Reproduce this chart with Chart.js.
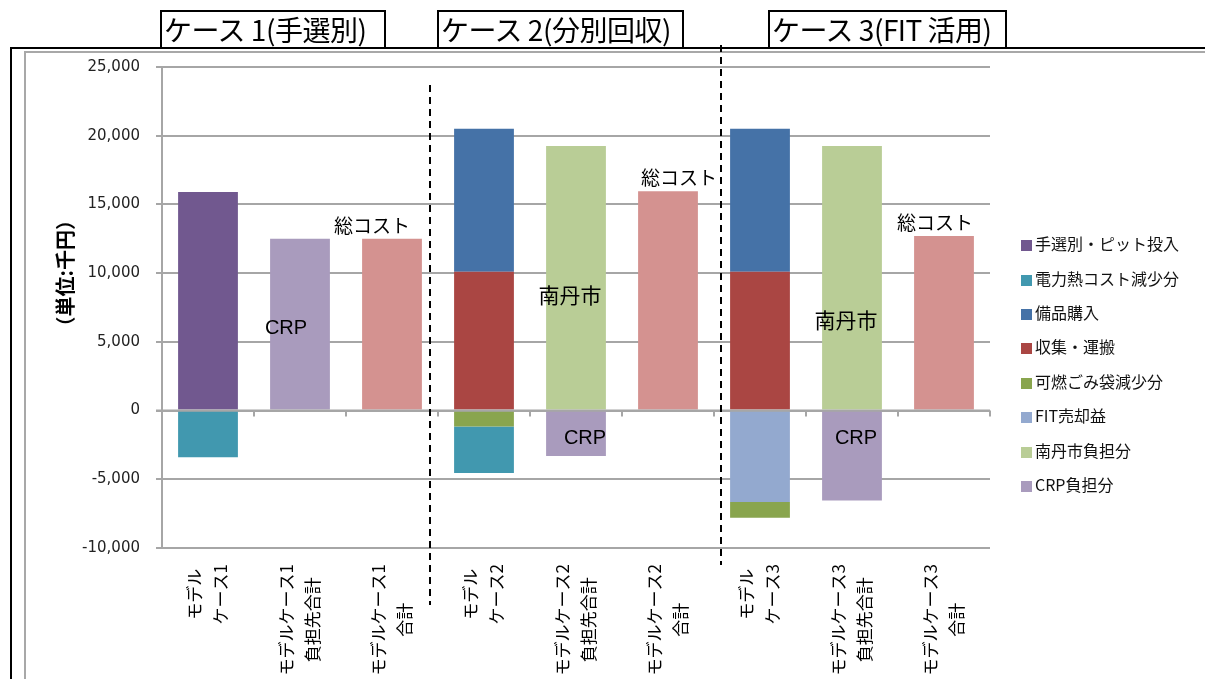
<!DOCTYPE html>
<html lang="ja">
<head>
<meta charset="UTF-8">
<title>モデルケース別コスト比較</title>
<script src="https://cdn.jsdelivr.net/npm/chart.js"></script>
<style>
  body { margin: 0; background: #fff; font-family: "Noto Sans CJK JP", sans-serif; }
  #wrap { position: relative; width: 1205px; height: 679px; overflow: hidden; }
  .frame { position: absolute; left: 10px; top: 47px; width: 1200px; height: 640px;
           border-top: 2px solid #000; border-left: 2px solid #000; }
  .inner { position: absolute; left: 24px; top: 51px; width: 1200px; height: 640px;
           border-top: 2px solid #a8a8a8; border-left: 2px solid #a8a8a8; }
  canvas { position: absolute; left: 0; top: 0; }
  .case { position: absolute; top: 10px; height: 39px; box-sizing: border-box;
          border: 2px solid #000; background: #fff; font-size: 28px; line-height: 34px;
          padding-left: 2px; white-space: nowrap; z-index: 2; letter-spacing: -0.5px; }
  #legend { position: absolute; left: 1020px; top: 226px; font-size: 16px; color: #111; }
  .item { height: 34.4px; display: flex; align-items: center; white-space: nowrap; }
  .item span { display: inline-block; width: 11px; height: 11px; margin: 5px 3px 0 1px; }
</style>
</head>
<body>
<div id="wrap">
  <div class="frame"></div>
  <div class="inner"></div>
  <canvas id="chart" width="1205" height="679"></canvas>
  <div id="legend"></div>
</div>
<script>
// カテゴリ（2行ラベル）
const categories = [
  ['モデル', 'ケース1'],
  ['モデルケース1', '負担先合計'],
  ['モデルケース1', '合計'],
  ['モデル', 'ケース2'],
  ['モデルケース2', '負担先合計'],
  ['モデルケース2', '合計'],
  ['モデル', 'ケース3'],
  ['モデルケース3', '負担先合計'],
  ['モデルケース3', '合計']
];

// 単位：千円
const handSort     = [15900, null, null, null, null, null, null, null, null];
const collection   = [null, null, null, 10100, null, null, 10100, null, null];
const equipment    = [null, null, null, 10400, null, null, 10400, null, null];
const fitSales     = [null, null, null, null, null, null, -6650, null, null];
const bagSavings   = [null, null, null, -1150, null, null, -1150, null, null];
const powerSavings = [-3400, null, null, -3400, null, null, null, null, null];
const nantanShare  = [null, null, null, null, 19250, null, null, 19250, null];
const crpShare     = [null, 12500, null, null, -3300, null, null, -6550, null];
const totalCost    = [null, null, 12500, null, null, 15950, null, null, 12700];

const yMin = -10000, yMax = 25000, yStep = 5000;
const yTitle = '（単位:千円）';

const caseTitles = ['ケース 1(手選別)', 'ケース 2(分別回収)', 'ケース 3(FIT 活用)'];

// 積み上げ順（ゼロに近いものから先）
const series = [
  { key: 'hand',  label: '手選別・ピット投入', data: handSort,     color: '#71588f' },
  { key: 'coll',  label: '収集・運搬',         data: collection,   color: '#aa4643' },
  { key: 'equip', label: '備品購入',           data: equipment,    color: '#4572a7' },
  { key: 'fit',   label: 'FIT売却益',          data: fitSales,     color: '#93a9cf' },
  { key: 'bag',   label: '可燃ごみ袋減少分',   data: bagSavings,   color: '#89a54e' },
  { key: 'power', label: '電力熱コスト減少分', data: powerSavings, color: '#4198af' },
  { key: 'city',  label: '南丹市負担分',       data: nantanShare,  color: '#b9cd96' },
  { key: 'crp',   label: 'CRP負担分',          data: crpShare,     color: '#a99bbd' },
  { key: 'total', label: '総コスト',           data: totalCost,    color: '#d49290' }
];
const legendOrder = ['hand', 'power', 'equip', 'coll', 'bag', 'fit', 'city', 'crp'];

// 棒に添える文字
const notes = [
  { i: 2, text: '総コスト', top: true, dx: -20 },
  { i: 5, text: '総コスト', top: true, dx: 11 },
  { i: 8, text: '総コスト', top: true, dx: -9 },
  { i: 1, text: 'CRP', at: 6000, dx: -14, latin: true },
  { i: 4, text: '南丹市', at: 8400, dx: -6 },
  { i: 4, text: 'CRP', at: -2000, dx: 9, latin: true },
  { i: 7, text: '南丹市', at: 6600, dx: -6 },
  { i: 7, text: 'CRP', at: -2000, dx: 4, latin: true }
];

// 区切りの点線（カテゴリ境界からのずれ、縦の範囲）
const separators = [
  { after: 2, dx: -8, y1: 85, y2: 605 },
  { after: 5, dx: 7, y1: 45, y2: 565 }
];

const caseBoxes = [
  { left: 160, width: 226 },
  { left: 437, width: 247 },
  { left: 768, width: 239 }
];
caseTitles.forEach((t, k) => {
  const d = document.createElement('div');
  d.className = 'case';
  d.style.left = caseBoxes[k].left + 'px';
  d.style.width = caseBoxes[k].width + 'px';
  d.textContent = t;
  document.getElementById('wrap').appendChild(d);
});

const legendEl = document.getElementById('legend');
legendOrder.forEach(k => {
  const s = series.find(x => x.key === k);
  const row = document.createElement('div');
  row.className = 'item';
  row.innerHTML = '<span style="background:' + s.color + '"></span>' + s.label;
  legendEl.appendChild(row);
});

const gridColor = '#a6a6a6';

const overlay = {
  id: 'overlay',
  afterDatasetsDraw(chart) {
    const ctx = chart.ctx;
    const x = chart.scales.x, y = chart.scales.y;
    const area = chart.chartArea;

    // 横軸（0の位置）と目盛り
    const y0 = y.getPixelForValue(0);
    ctx.save();
    ctx.strokeStyle = gridColor;
    ctx.lineWidth = 2;
    ctx.beginPath();
    ctx.moveTo(area.left - 6, y0);
    ctx.lineTo(area.right, y0);
    for (let i = 0; i <= categories.length; i++) {
      const px = Math.round(x.getPixelForValue(i - 0.5));
      ctx.moveTo(px, y0);
      ctx.lineTo(px, y0 + 6);
    }
    ctx.stroke();

    // 棒の文字
    ctx.fillStyle = '#000';
    ctx.textAlign = 'center';
    notes.forEach(n => {
      const cx = x.getPixelForValue(n.i) + (n.dx || 0);
      if (n.top) {
        ctx.font = '19px "Noto Sans CJK JP"';
        ctx.textBaseline = 'bottom';
        ctx.fillText(n.text, cx, y.getPixelForValue(totalCost[n.i]) - 4);
      } else {
        ctx.font = n.latin ? '20px "Liberation Sans"' : '21px "Noto Sans CJK JP"';
        ctx.textBaseline = 'middle';
        ctx.fillText(n.text, cx, y.getPixelForValue(n.at));
      }
    });
    ctx.restore();
  },
  afterDraw(chart) {
    const ctx = chart.ctx;
    const x = chart.scales.x, y = chart.scales.y;
    const area = chart.chartArea;

    ctx.save();
    // 縦軸の単位
    ctx.font = 'bold 20px "Noto Sans CJK JP"';
    ctx.fillStyle = '#000';
    ctx.textAlign = 'center';
    ctx.textBaseline = 'middle';
    ctx.save();
    ctx.translate(65, y.getPixelForValue(10000));
    ctx.rotate(-Math.PI / 2);
    ctx.fillText(yTitle, 0, 0);
    ctx.restore();

    // 縦書きのカテゴリラベル
    ctx.font = '17px "Noto Sans CJK JP"';
    const lh = 26;
    categories.forEach((lines, i) => {
      const cx = x.getPixelForValue(i);
      const maxW = Math.max(...lines.map(l => ctx.measureText(l).width));
      lines.forEach((l, j) => {
        ctx.save();
        ctx.translate(cx + (j - (lines.length - 1) / 2) * lh, area.bottom + 16);
        ctx.rotate(-Math.PI / 2);
        ctx.fillText(l, -maxW / 2, 0);
        ctx.restore();
      });
    });

    // ケース間の点線
    ctx.strokeStyle = '#000';
    ctx.lineWidth = 2;
    ctx.setLineDash([7, 5]);
    separators.forEach(s => {
      const px = Math.round(x.getPixelForValue(s.after + 0.5) + s.dx);
      ctx.beginPath();
      ctx.moveTo(px, s.y1);
      ctx.lineTo(px, s.y2);
      ctx.stroke();
    });
    ctx.restore();
  }
};

new Chart(document.getElementById('chart'), {
  type: 'bar',
  data: {
    labels: categories,
    datasets: series.map(s => ({
      label: s.label,
      data: s.data,
      backgroundColor: s.color,
      borderWidth: 0,
      stack: 'cost',
      categoryPercentage: 1,
      barPercentage: 0.65
    }))
  },
  options: {
    responsive: false,
    animation: false,
    events: [],
    layout: { padding: { left: 0, right: 215, top: 67, bottom: 0 } },
    plugins: { legend: { display: false }, tooltip: { enabled: false } },
    scales: {
      x: {
        stacked: true,
        grid: { display: false },
        border: { display: false },
        ticks: { display: false },
        afterFit(scale) { scale.height = 131; }
      },
      y: {
        stacked: true,
        min: yMin,
        max: yMax,
        grid: { color: gridColor, lineWidth: 2, tickLength: 6 },
        border: { color: gridColor, width: 2 },
        ticks: {
          stepSize: yStep,
          padding: 16,
          color: '#222',
          font: { family: 'DejaVu Sans', size: 15 },
          callback: v => v.toLocaleString('en-US')
        },
        afterFit(scale) { scale.width = 162; }
      }
    }
  },
  plugins: [overlay]
});
</script>
</body>
</html>
